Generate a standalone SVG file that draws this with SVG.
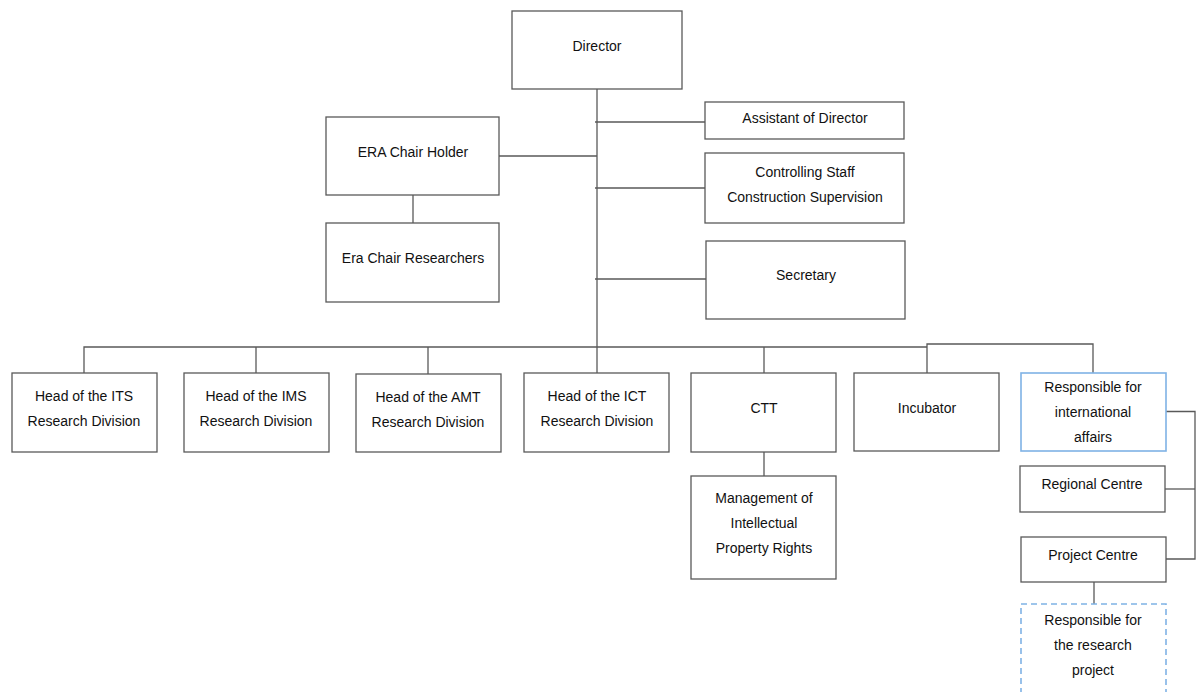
<svg xmlns="http://www.w3.org/2000/svg" width="1199" height="692" viewBox="0 0 1199 692">
  <style>
    .box { fill: #ffffff; stroke: #595959; stroke-width: 1.3; }
    .hl { fill: #ffffff; stroke: #7fb2e5; stroke-width: 1.6; }
    .dash { fill: #ffffff; stroke: #7fb2e5; stroke-width: 1.6; stroke-dasharray: 6 4; }
    .lbl { font-family: "Liberation Sans", Arial, sans-serif; font-size: 14px; fill: #111111; text-anchor: middle; }
    .wire { fill: none; stroke: #595959; stroke-width: 1.3; }
  </style>
  <rect width="1199" height="692" fill="#ffffff"/>

  <!-- connectors -->
  <g id="connectors" class="wire">
    <path d="M597 89 V373"/>
    <path d="M595 122 H705"/>
    <path d="M595 188 H705"/>
    <path d="M595 279 H706"/>
    <path d="M499 156 H597"/>
    <path d="M413 195 V223"/>
    <path d="M84 373 V347 H927"/>
    <path d="M256 347 V373"/>
    <path d="M428 347 V374"/>
    <path d="M764 347 V373"/>
    <path d="M927 373 V344 H1093 V373"/>
    <path d="M764 452 V476"/>
    <path d="M1166 411.5 H1195 V559 H1166"/>
    <path d="M1165 489 H1195"/>
    <path d="M1094 582 V604"/>
  </g>

  <g id="director">
    <rect class="box" x="512" y="11" width="170" height="78"/>
    <text class="lbl" x="597" y="51">Director</text>
  </g>
  <g id="assistant">
    <rect class="box" x="705" y="102" width="199" height="37"/>
    <text class="lbl" x="805" y="123">Assistant of Director</text>
  </g>
  <g id="controlling">
    <rect class="box" x="705" y="153" width="199" height="70"/>
    <text class="lbl" x="805" y="177">Controlling Staff</text>
    <text class="lbl" x="805" y="202">Construction Supervision</text>
  </g>
  <g id="secretary">
    <rect class="box" x="706" y="241" width="199" height="78"/>
    <text class="lbl" x="806" y="280">Secretary</text>
  </g>
  <g id="era-holder">
    <rect class="box" x="326" y="117" width="173" height="78"/>
    <text class="lbl" x="413" y="157">ERA Chair Holder</text>
  </g>
  <g id="era-researchers">
    <rect class="box" x="326" y="223" width="173" height="79"/>
    <text class="lbl" x="413" y="263">Era Chair Researchers</text>
  </g>

  <g id="its">
    <rect class="box" x="12" y="373" width="145" height="79"/>
    <text class="lbl" x="84" y="401">Head of the ITS</text>
    <text class="lbl" x="84" y="426">Research Division</text>
  </g>
  <g id="ims">
    <rect class="box" x="184" y="373" width="145" height="79"/>
    <text class="lbl" x="256" y="401">Head of the IMS</text>
    <text class="lbl" x="256" y="426">Research Division</text>
  </g>
  <g id="amt">
    <rect class="box" x="356" y="374" width="145" height="78"/>
    <text class="lbl" x="428" y="402">Head of the AMT</text>
    <text class="lbl" x="428" y="427">Research Division</text>
  </g>
  <g id="ict">
    <rect class="box" x="524" y="373" width="145" height="79"/>
    <text class="lbl" x="597" y="401">Head of the ICT</text>
    <text class="lbl" x="597" y="426">Research Division</text>
  </g>
  <g id="ctt">
    <rect class="box" x="691" y="373" width="145" height="79"/>
    <text class="lbl" x="764" y="413">CTT</text>
  </g>
  <g id="ipr">
    <rect class="box" x="691" y="476" width="145" height="103"/>
    <text class="lbl" x="764" y="503">Management of</text>
    <text class="lbl" x="764" y="528">Intellectual</text>
    <text class="lbl" x="764" y="553">Property Rights</text>
  </g>
  <g id="incubator">
    <rect class="box" x="854" y="373" width="145" height="78"/>
    <text class="lbl" x="927" y="413">Incubator</text>
  </g>
  <g id="international">
    <rect class="hl" x="1021" y="373" width="145" height="78"/>
    <text class="lbl" x="1093" y="392">Responsible for</text>
    <text class="lbl" x="1093" y="417">international</text>
    <text class="lbl" x="1093" y="442">affairs</text>
  </g>
  <g id="regional">
    <rect class="box" x="1020" y="466" width="145" height="46"/>
    <text class="lbl" x="1092" y="489">Regional Centre</text>
  </g>
  <g id="project-centre">
    <rect class="box" x="1021" y="537" width="145" height="45"/>
    <text class="lbl" x="1093" y="560">Project Centre</text>
  </g>
  <g id="research-project">
    <rect class="dash" x="1021" y="604" width="145" height="100"/>
    <text class="lbl" x="1093" y="625">Responsible for</text>
    <text class="lbl" x="1093" y="650">the research</text>
    <text class="lbl" x="1093" y="675">project</text>
  </g>
</svg>
